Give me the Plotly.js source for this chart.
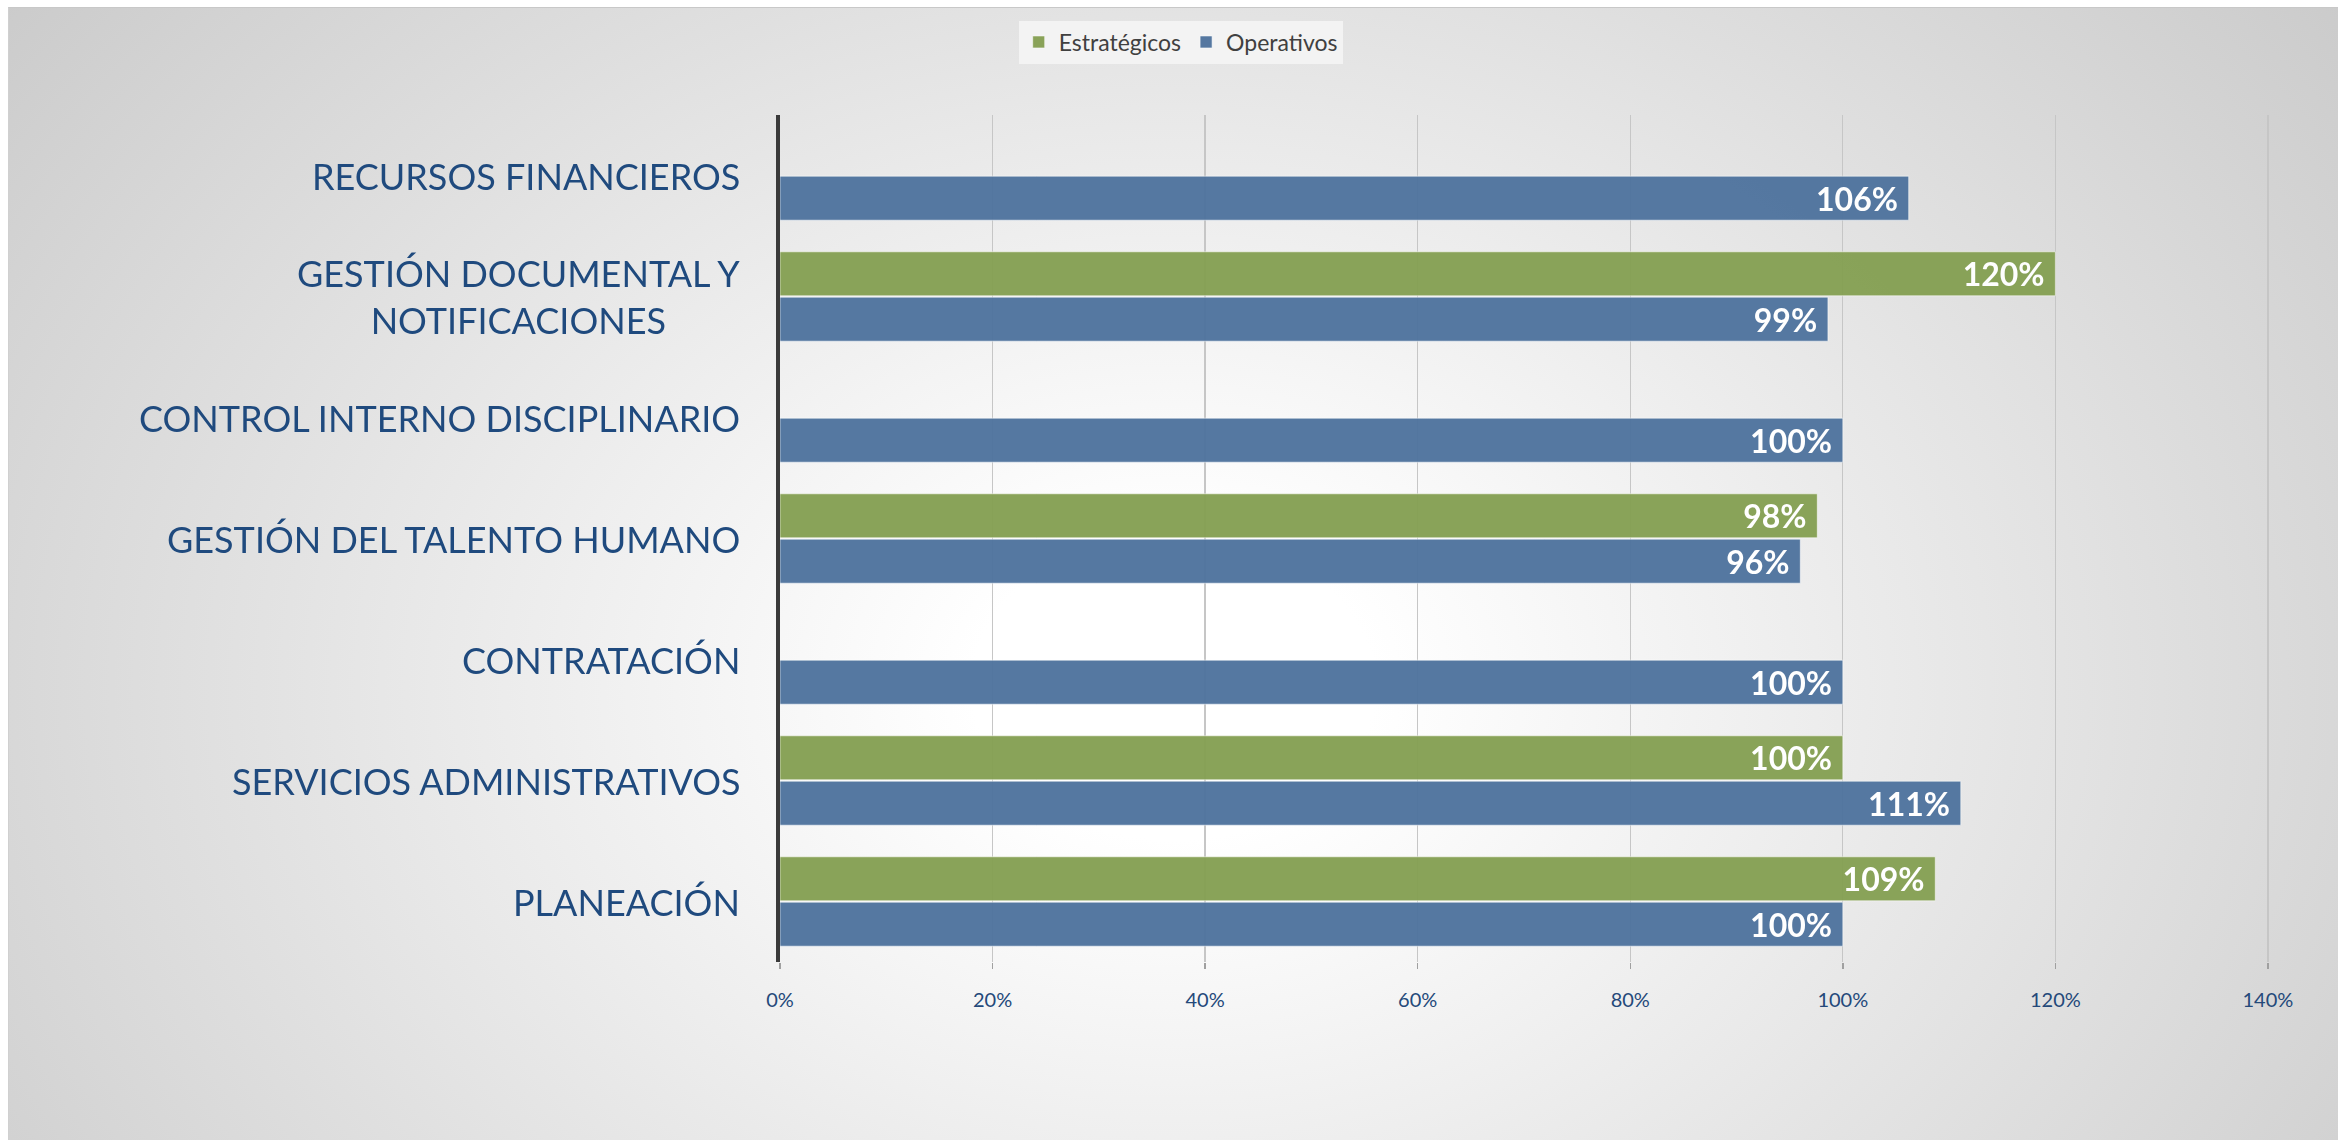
<!DOCTYPE html>
<html>
<head>
<meta charset="utf-8">
<script src="https://cdn.plot.ly/plotly-3.0.1.min.js"></script>
<style>
  html, body { margin: 0; padding: 0; background: #ffffff; }
  #bg {
    position: absolute; left: 8px; top: 7px; width: 2330px; height: 1133px;
    border-top: 1px solid #c8c8c8; border-left: 1px solid #d0d0d0; box-sizing: border-box;
    background: radial-gradient(ellipse 72% 112% at 50% 60%, #ffffff 0%, #ffffff 12%, #c3c3c3 100%);
  }
  #chart { position: absolute; left: 0; top: 0; width: 2338px; height: 1140px; }
</style>
</head>
<body>
<div id="bg"></div>
<div id="chart"></div>
<script>
const categories = [
  "PLANEACIÓN",
  "SERVICIOS ADMINISTRATIVOS",
  "CONTRATACIÓN",
  "GESTIÓN DEL TALENTO HUMANO",
  "CONTROL INTERNO DISCIPLINARIO",
  "GESTIÓN DOCUMENTAL Y<br>NOTIFICACIONES",
  "RECURSOS FINANCIEROS"
];
const estrategicos = [1.087, 1.00, null, 0.976, null, 1.20, null];
const operativos   = [1.00, 1.111, 1.00, 0.96, 1.00, 0.986, 1.062];
const tickVals = [0, 0.2, 0.4, 0.6, 0.8, 1.0, 1.2, 1.4];
const tickText = ["0%", "20%", "40%", "60%", "80%", "100%", "120%", "140%"];

const FONT = "Lato, 'Open Sans', sans-serif";
const labelFont = {family: FONT, size: 32, color: "#ffffff", weight: "bold"};

const traces = [
  {
    type: "bar", orientation: "h", name: "Operativos",
    y: categories, x: operativos,
    marker: {color: "#50749E", line: {color: "rgba(255,255,255,0.55)", width: 1}},
    opacity: 0.97,
    texttemplate: "<b>%{x:.0%}</b>\u00a0", textposition: "inside", insidetextanchor: "end",
    textangle: 0, insidetextfont: labelFont, constraintext: "none",
    hoverinfo: "skip"
  },
  {
    type: "bar", orientation: "h", name: "Estratégicos",
    y: categories, x: estrategicos,
    marker: {color: "#86A054", line: {color: "rgba(255,255,255,0.55)", width: 1}},
    opacity: 0.97,
    texttemplate: "<b>%{x:.0%}</b>\u00a0", textposition: "inside", insidetextanchor: "end",
    textangle: 0, insidetextfont: labelFont, constraintext: "none",
    hoverinfo: "skip"
  }
];

const catAnnotations = categories.map(c => ({
  xref: "paper", yref: "y", x: 0, y: c,
  xanchor: "right", yanchor: "middle", xshift: -38,
  text: c, align: "center", showarrow: false,
  font: {family: FONT, size: 36, color: "#1F4A7E"}
}));

const layout = {
  width: 2338, height: 1140,
  paper_bgcolor: "rgba(0,0,0,0)", plot_bgcolor: "rgba(0,0,0,0)",
  margin: {l: 780, r: 69, t: 115, b: 178},
  barmode: "group", bargap: 0.25, bargroupgap: 0.03,
  font: {family: FONT},
  showlegend: true,
  legend: {
    orientation: "h", traceorder: "reversed",
    xref: "container", yref: "container",
    x: 0.505, xanchor: "center", y: 0.982, yanchor: "top",
    bgcolor: "#f3f3f3", font: {family: FONT, size: 23, color: "#404040"},
    itemwidth: 30, tracegroupgap: 0
  },
  annotations: catAnnotations,
  xaxis: {
    range: [0, 1.401], tickvals: tickVals, ticktext: tickText,
    showgrid: true, gridcolor: "#c6c6c6", gridwidth: 1.3,
    zeroline: false, showline: false,
    ticks: "outside", ticklen: 6, tickcolor: "#a0a0a0", tickwidth: 1.5,
    ticklabelstandoff: 14,
    tickfont: {family: FONT, size: 20, color: "#24497A"},
    fixedrange: true
  },
  yaxis: {
    type: "category", categoryorder: "array", categoryarray: categories,
    showgrid: false, zeroline: false,
    showline: true, linecolor: "#3a3a3a", linewidth: 4,
    ticks: "", showticklabels: false,
    fixedrange: true
  }
};

Plotly.newPlot("chart", traces, layout, {displayModeBar: false, staticPlot: true});
</script>
</body>
</html>
